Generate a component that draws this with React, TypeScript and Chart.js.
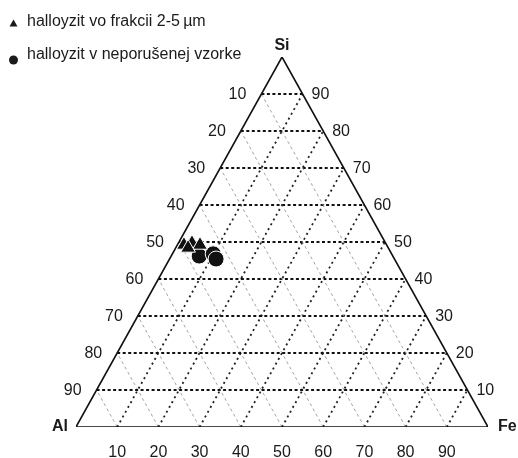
import { useEffect, useRef } from "react";
import { Chart, registerables } from "chart.js";
Chart.register(...registerables);

// ---- data (ternary compositions, %) ----
const gridLevels = [10, 20, 30, 40, 50, 60, 70, 80, 90];
const leftTickLabels = ["10", "20", "30", "40", "50", "60", "70", "80", "90"]; // top -> bottom
const rightTickLabels = ["90", "80", "70", "60", "50", "40", "30", "20", "10"]; // top -> bottom
const bottomTickLabels = ["10", "20", "30", "40", "50", "60", "70", "80", "90"]; // left -> right
const vertexLabels = ["Si", "Al", "Fe"];
const seriesNames = ["halloyzit vo frakcii 2-5\u2009µm", "halloyzit v neporušenej vzorke"];

const fractionSi = [49.2, 49.7, 49.2, 48.4];
const fractionFe = [1.6, 3.3, 5.5, 3.0];
const sampleSi = [46.2, 46.8, 45.4];
const sampleFe = [6.8, 9.9, 11.3];

const FONT = "'Liberation Sans', Arial, sans-serif";

// ternary (Si, Fe) -> cartesian
const tx = (si: number, fe: number) => fe + si / 2;
const ty = (si: number) => si;

export default function App() {
  const ref = useRef<HTMLCanvasElement>(null);
  useEffect(() => {
    document.body.style.margin = "0";
    const canvas = ref.current!;
    const datasets: any[] = [];

    datasets.push({
      label: seriesNames[0],
      data: fractionSi.map((s, i) => ({ x: tx(s, fractionFe[i]), y: ty(s) })),
      pointStyle: "triangle",
      pointRadius: 8.5,
      backgroundColor: "#111",
      borderColor: "#fff",
      borderWidth: 1,
      showLine: false,
    });
    datasets.push({
      label: seriesNames[1],
      data: sampleSi.map((s, i) => ({ x: tx(s, sampleFe[i]), y: ty(s) })),
      pointStyle: "circle",
      pointRadius: 8,
      backgroundColor: "#111",
      borderColor: "#fff",
      borderWidth: 1,
      showLine: false,
    });

    // outline
    datasets.push({
      data: [
        { x: 0, y: 0 },
        { x: 50, y: 100 },
        { x: 100, y: 0 },
        { x: 0, y: 0 },
      ],
      showLine: true,
      borderColor: "#111",
      borderWidth: 1.6,
      pointRadius: 0,
      fill: false,
    });

    gridLevels.forEach((v) => {
      // constant Si (horizontal) - bold dotted
      datasets.push({
        data: [
          { x: tx(v, 0), y: ty(v) },
          { x: tx(v, 100 - v), y: ty(v) },
        ],
        showLine: true,
        borderColor: "#111",
        borderWidth: 2,
        borderDash: [3, 2.5],
        pointRadius: 0,
      });
      // constant Fe (parallel to Al-Si edge) - dotted
      datasets.push({
        data: [
          { x: tx(0, v), y: ty(0) },
          { x: tx(100 - v, v), y: ty(100 - v) },
        ],
        showLine: true,
        borderColor: "#222",
        borderWidth: 1.8,
        borderDash: [2, 3.5],
        pointRadius: 0,
      });
      // constant Al (parallel to Si-Fe edge) - light grey
      datasets.push({
        data: [
          { x: tx(0, 100 - v), y: ty(0) },
          { x: tx(100 - v, 0), y: ty(100 - v) },
        ],
        showLine: true,
        borderColor: "#999",
        borderWidth: 0.9,
        borderDash: [3, 3],
        pointRadius: 0,
      });
    });

    const labelPlugin = {
      id: "ternLabels",
      afterDraw(chart: any) {
        const { ctx } = chart;
        const xs = chart.scales.x;
        const ys = chart.scales.y;
        const px = (x: number) => xs.getPixelForValue(x);
        const py = (y: number) => ys.getPixelForValue(y);
        ctx.save();
        ctx.fillStyle = "#1a1a1a";
        ctx.font = `16px ${FONT}`;
        ctx.textBaseline = "middle";
        // left labels
        ctx.textAlign = "right";
        gridLevels.forEach((v, i) => {
          const si = 100 - v;
          ctx.fillText(leftTickLabels[i], px(tx(si, 0)) - 15, py(si) + 1);
        });
        // right labels
        ctx.textAlign = "left";
        gridLevels.forEach((v, i) => {
          const si = 100 - v;
          ctx.fillText(rightTickLabels[i], px(tx(si, 100 - si)) + 9, py(si) + 1);
        });
        // bottom labels
        ctx.textAlign = "center";
        gridLevels.forEach((v, i) => {
          ctx.fillText(bottomTickLabels[i], px(tx(0, v)), py(0) + 26);
        });
        // vertices
        ctx.font = `bold 16px ${FONT}`;
        ctx.textAlign = "center";
        ctx.fillText(vertexLabels[0], px(50), py(100) - 11);
        ctx.textAlign = "right";
        ctx.fillText(vertexLabels[1], px(0) - 8, py(0));
        ctx.textAlign = "left";
        ctx.fillText(vertexLabels[2], px(100) + 10, py(0));
        // legend
        ctx.font = `16px ${FONT}`;
        ctx.textAlign = "left";
        ctx.fillStyle = "#1a1a1a";
        // triangle marker
        ctx.beginPath();
        ctx.moveTo(13.5, 19.5);
        ctx.lineTo(17.5, 26.5);
        ctx.lineTo(9.5, 26.5);
        ctx.closePath();
        ctx.fill();
        ctx.fillText(seriesNames[0], 27, 22);
        ctx.beginPath();
        ctx.arc(13.5, 60, 4.5, 0, Math.PI * 2);
        ctx.fill();
        ctx.fillText(seriesNames[1], 27, 55);
        ctx.restore();
      },
    };

    const chart = new Chart(canvas, {
      type: "scatter",
      data: { datasets },
      options: {
        responsive: false,
        animation: false,
        events: [],
        layout: { padding: { left: 76, right: 30, top: 57, bottom: 31 } },
        scales: {
          x: { type: "linear", min: 0, max: 100, display: false },
          y: { type: "linear", min: 0, max: 100, display: false },
        },
        plugins: { legend: { display: false }, tooltip: { enabled: false } },
        elements: { line: { tension: 0 } },
      },
      plugins: [labelPlugin],
    });
    return () => chart.destroy();
  }, []);
  return <canvas ref={ref} width={518} height={458} style={{ display: "block" }} />;
}
